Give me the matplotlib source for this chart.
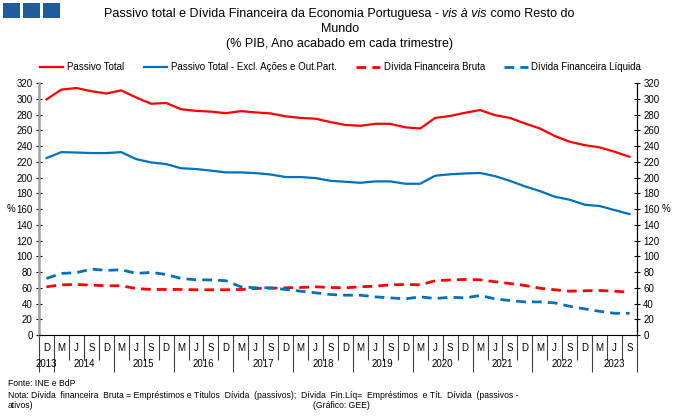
import numpy as np
import matplotlib
matplotlib.use("Agg")
from matplotlib import pyplot as plt
from matplotlib import transforms
from matplotlib.patches import Rectangle
from matplotlib.offsetbox import TextArea, HPacker, AnchoredOffsetbox

plt.rcParams["font.family"] = ["Liberation Sans", "DejaVu Sans"]

# quarters D2013 .. S2023
quarters = ["D"] + ["M", "J", "S", "D"] * 9 + ["M", "J", "S"]
years = ["2013", "2014", "2015", "2016", "2017", "2018",
         "2019", "2020", "2021", "2022", "2023"]
year_sizes = [1] + [4] * 9 + [3]

passivo_total = [299.5, 312, 314, 310, 307, 311, 302, 294, 295, 287,
                 285, 284, 282, 284.6, 283, 281.7, 278, 276, 275, 270.7,
                 267, 266, 268.5, 268.5, 264, 262.6, 276, 278.5, 282.5, 286,
                 279.5, 276, 269, 262.6, 253, 245.7, 241.4, 238.5, 233, 226.6]
passivo_excl = [225, 232.5, 232, 231.3, 231.3, 232.5, 223.6, 219.4, 217.3, 212,
                211, 209, 206.7, 206.7, 205.8, 204, 200.8, 200.8, 199.5, 196,
                194.8, 193.5, 195.3, 195.3, 192.3, 192.3, 202.5, 204.3, 205.4, 206,
                202, 196, 189, 183, 175.8, 172, 165.6, 164, 158.8, 153.7]
divida_bruta = [61.3, 63.8, 64.2, 63.4, 62.6, 62.6, 59.1, 57.9, 57.9, 57.9,
                57.5, 57.5, 57.5, 57.9, 59.1, 59.5, 60, 60.4, 61.3, 60.4,
                60, 61.3, 62.1, 63.8, 64.2, 63.8, 69, 70, 70.6, 70.2,
                67.7, 65.5, 63, 59.5, 57.5, 55.7, 56.2, 56.6, 55.7, 54.4]
divida_liquida = [71.9, 78.3, 79.2, 83.8, 82.1, 83, 78.3, 79.6, 77, 71.9,
                  70.2, 70, 69, 61.3, 60, 60, 57.9, 55.7, 53.6, 51.5,
                  50.6, 50.6, 48.5, 47.2, 46, 48.5, 46.4, 48, 47.2, 50.2,
                  46, 43.8, 42.1, 42.1, 40.8, 36.5, 33.2, 30.1, 27.6, 27.6]

RED = "#FF0000"
BLUE = "#0070C0"
W, H = 680, 418

fig = plt.figure(figsize=(6.8, 4.18), dpi=100)
ax = fig.add_axes([39 / W, 1 - 335 / H, (637 - 39) / W, (335 - 83.3) / H])

x = np.arange(len(quarters))
ax.plot(x, passivo_total, color=RED, lw=1.6, label="Passivo Total")
ax.plot(x, passivo_excl, color=BLUE, lw=1.6,
        label="Passivo Total - Excl. Ações e Out.Part.")
ax.plot(x, divida_bruta, color=RED, lw=2.0, ls=(0, (3.5, 2.2)),
        label="Dívida Financeira Bruta")
ax.plot(x, divida_liquida, color=BLUE, lw=2.0, ls=(0, (3.5, 2.2)),
        label="Dívida Financeira Líquida")

ax.set_xlim(-0.5, len(quarters) - 0.5)
ax.set_ylim(0, 320)
ax.set_yticks(range(0, 321, 20))
ax.tick_params(axis="y", direction="inout", length=5, width=0.8,
               labelsize=7, pad=2)

# x axis: short separators per quarter, long ones per year
bounds = np.arange(len(quarters) + 1) - 0.5
year_bounds = np.concatenate([[0], np.cumsum(year_sizes)]) - 0.5
ax.set_xticks(year_bounds)
ax.set_xticks(bounds, minor=True)
ax.set_xticklabels([])
ax.tick_params(axis="x", which="major", direction="out", length=26.6,
               width=0.8, color="#404040")
ax.tick_params(axis="x", which="minor", direction="out", length=18,
               width=0.8, color="#404040")

trans = transforms.blended_transform_factory(ax.transData, ax.transAxes)
for i, q in enumerate(quarters):
    ax.text(i, -0.052, q, transform=trans, ha="center", va="center", fontsize=7)
centers = (year_bounds[:-1] + year_bounds[1:]) / 2
for c, yr in zip(centers, years):
    ax.text(c, -0.114, yr, transform=trans, ha="center", va="center", fontsize=7)

ax.spines["top"].set_visible(False)
ax.spines["right"].set_visible(False)
ax.spines["left"].set_color("#A0A0A0")
ax.spines["left"].set_linewidth(1.8)
ax.spines["bottom"].set_color("black")
ax.spines["bottom"].set_linewidth(0.8)

ax2 = ax.twinx()
ax2.set_ylim(0, 320)
ax2.set_yticks(range(0, 321, 20))
ax2.tick_params(axis="y", direction="inout", length=5, width=0.8,
                labelsize=7, pad=2)
for s in ["top", "left", "bottom"]:
    ax2.spines[s].set_visible(False)
ax2.spines["right"].set_color("black")
ax2.spines["right"].set_linewidth(0.9)

ytrans = transforms.blended_transform_factory(ax.transAxes, ax.transData)
ax.text(-0.046, 160, "%", transform=ytrans, ha="center", va="center", fontsize=7)
ax.text(1.0485, 160, "%", transform=ytrans, ha="center", va="center", fontsize=7)

ax.legend(loc="center left", bbox_to_anchor=(40 / W, 1 - 67 / H),
          bbox_transform=fig.transFigure, ncol=4, frameon=False, fontsize=7,
          handlelength=2.4, handletextpad=0.4, columnspacing=2.0,
          borderpad=0, borderaxespad=0)

# title, with "vis à vis" in italic
parts = [
    TextArea("Passivo total e Dívida Financeira da Economia Portuguesa - ",
             textprops=dict(size=9)),
    TextArea("vis à vis", textprops=dict(size=9, style="italic")),
    TextArea(" como Resto do", textprops=dict(size=9)),
]
title_box = HPacker(children=parts, align="baseline", pad=0, sep=0)
fig.add_artist(AnchoredOffsetbox(loc="center", child=title_box, pad=0,
                                 frameon=False, borderpad=0,
                                 bbox_to_anchor=(339 / W, 1 - 14 / H),
                                 bbox_transform=fig.transFigure))
fig.text(0.5, 1 - 29 / H, "Mundo", ha="center", va="center", size=9)
fig.text(0.5, 1 - 44 / H, "(% PIB, Ano acabado em cada trimestre)",
         ha="center", va="center", size=9)

# logo squares
for i in range(3):
    fig.add_artist(Rectangle(((3 + i * 20) / W, 1 - 17.5 / H), 17 / W, 14.5 / H,
                             transform=fig.transFigure, facecolor="#1F5C9E",
                             lw=0))

fig.text(8 / W, 1 - 383 / H, "Fonte: INE e BdP", size=6.2, va="center")
fig.text(8 / W, 1 - 395 / H,
         "Nota: Dívida  financeira  Bruta = Empréstimos e Títulos  Dívida  (passivos);"
         "  Dívida  Fin.Líq=  Empréstimos  e Tít.  Dívida  (passivos -",
         size=6.2, va="center")
fig.text(8 / W, 1 - 406 / H, "ativos)", size=6.2, va="center")
fig.text(313 / W, 1 - 406 / H, "(Gráfico: GEE)", size=6.2, va="center")

fig.savefig("out.png", dpi=100)
